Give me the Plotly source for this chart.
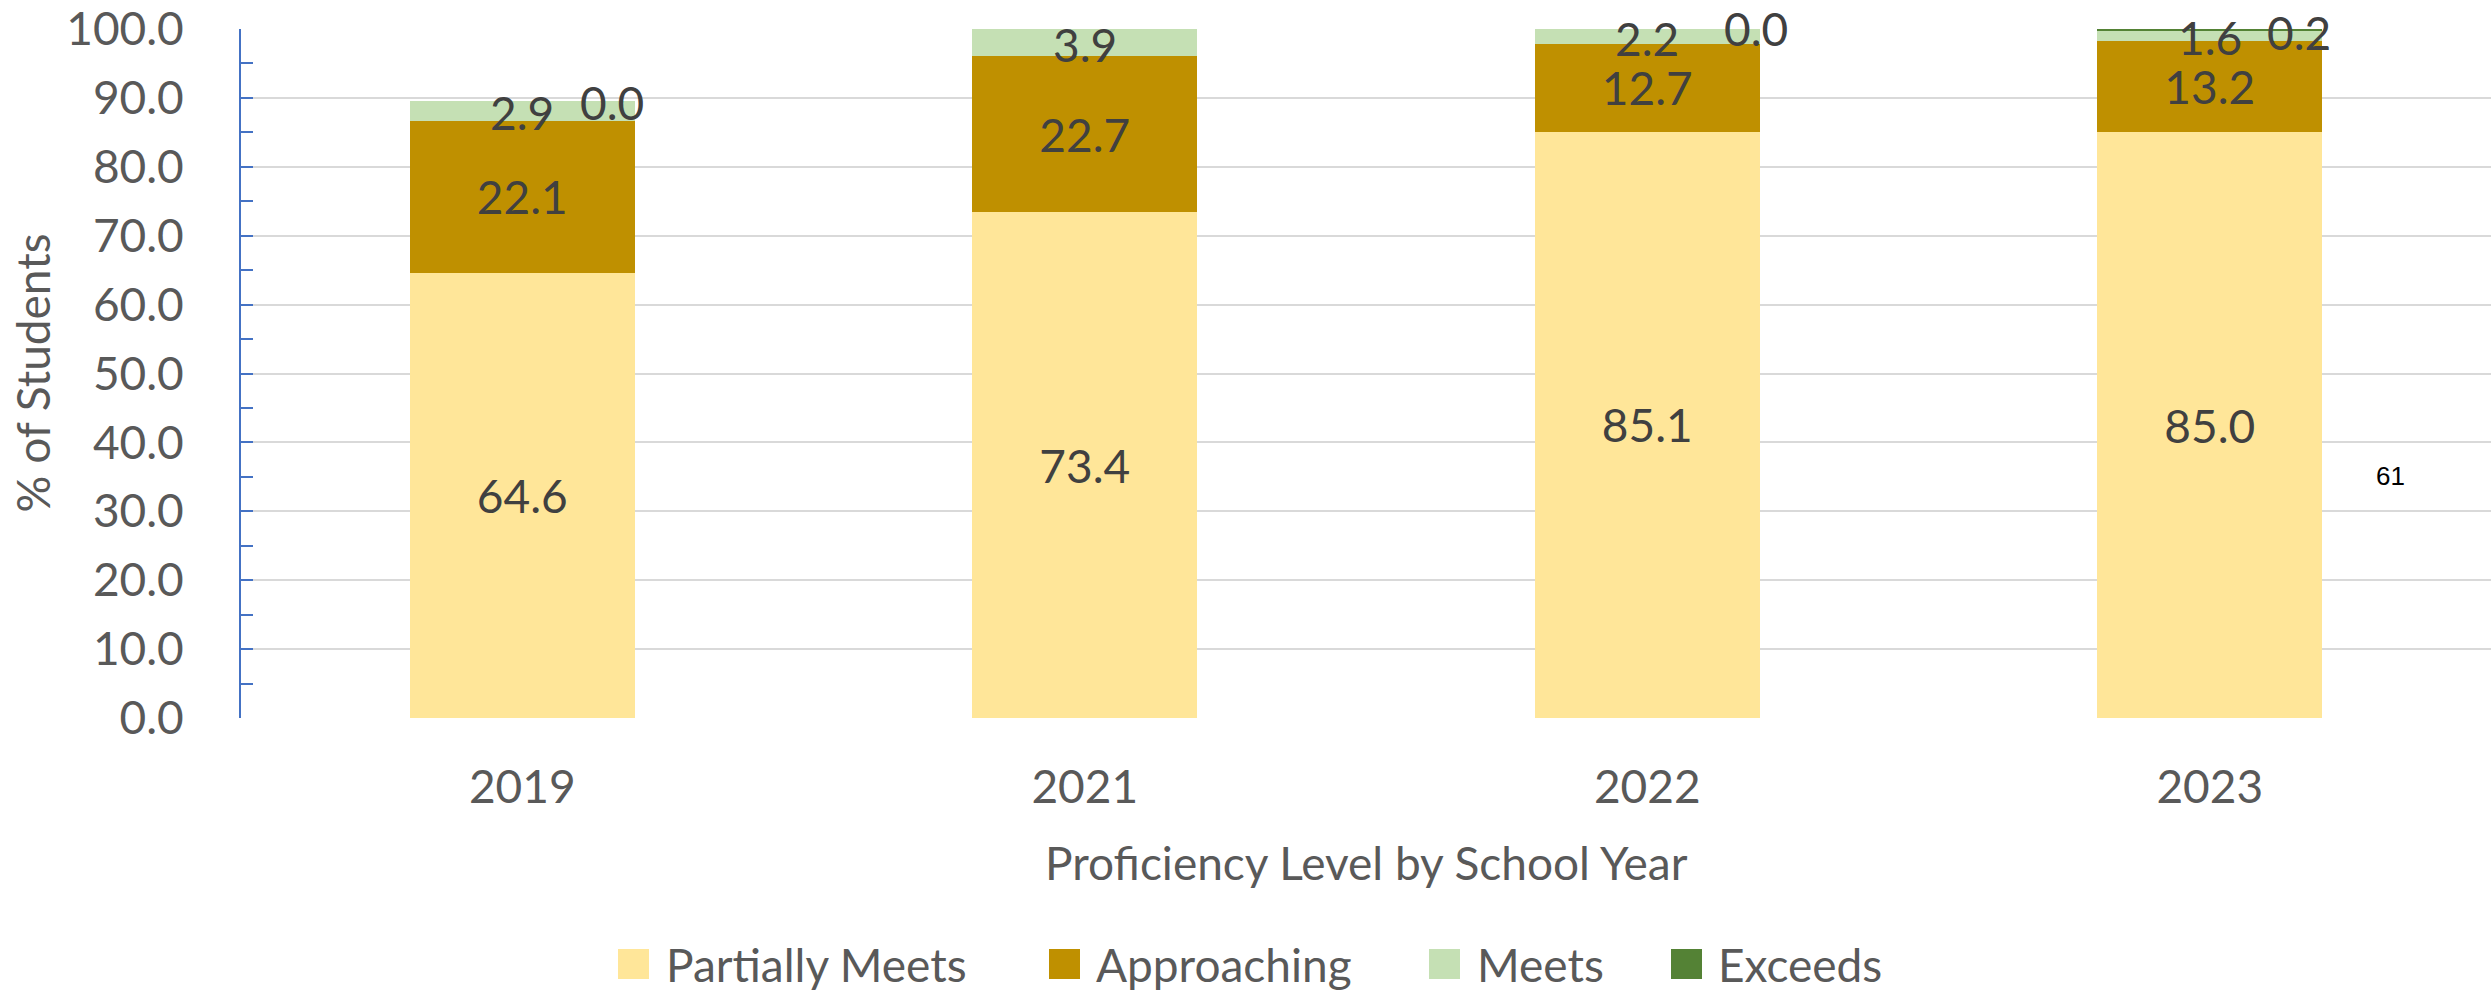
import plotly.graph_objects as go

# School years on the category axis
years = ["2019", "2021", "2022", "2023"]

# Percent of students at each proficiency level
partially_meets = [64.6, 73.4, 85.1, 85.0]
approaching = [22.1, 22.7, 12.7, 13.2]
meets = [2.9, 3.9, 2.2, 1.6]
exceeds = [0.0, None, 0.0, 0.2]

series_names = ["Partially Meets", "Approaching", "Meets", "Exceeds"]
series_colors = ["#FFE699", "#BF9000", "#C5E0B4", "#548235"]

y_ticks = [0, 10, 20, 30, 40, 50, 60, 70, 80, 90, 100]
y_tick_labels = [f"{v:.1f}" for v in y_ticks]

# Pixel nudges for the "Exceeds" labels so they sit beside the "Meets" labels
exceeds_label_dx = [90, 0, 109, 89]
exceeds_label_dy = [-2, 0, 1, -3]

FONT = "Lato, Carlito, Calibri, sans-serif"
LABEL_COLOR = "#404040"
AXIS_COLOR = "#595959"
SIZE = 46

W, H = 2491, 991
PL, PR, PT, PB = 241, 2491, 29, 718  # plot area in pixels


def px_x(x):
    return (x - PL) / (PR - PL)


def px_y(y):
    return (PB - y) / (PB - PT)


fig = go.Figure()

series_values = [partially_meets, approaching, meets, exceeds]
for i, (name, vals, color) in enumerate(zip(series_names, series_values, series_colors)):
    inside = i < 2
    fig.add_trace(go.Bar(
        x=years,
        y=[v if v is not None else 0 for v in vals],
        name=name,
        marker=dict(color=color, line=dict(width=0)),
        text=[f"{v:.1f}" for v in vals] if inside else None,
        textposition="inside" if inside else "none",
        insidetextanchor="middle",
        textangle=0,
        constraintext="none",
        textfont=dict(family=FONT, size=SIZE, color=LABEL_COLOR),
        showlegend=False,
        hoverinfo="skip",
    ))

annotations = []

# Labels for the thin top segments (x given as category index)
for idx, (pm, ap, me, ex) in enumerate(zip(partially_meets, approaching, meets, exceeds)):
    base = pm + ap
    annotations.append(dict(
        x=idx, y=base + me / 2, xref="x", yref="y",
        text=f"{me:.1f}", showarrow=False, yshift=-2,
        font=dict(family=FONT, size=SIZE, color=LABEL_COLOR),
    ))
    if ex is not None:
        annotations.append(dict(
            x=idx, y=base + me + ex, xref="x", yref="y",
            text=f"{ex:.1f}", showarrow=False,
            xshift=exceeds_label_dx[idx], yshift=exceeds_label_dy[idx],
            font=dict(family=FONT, size=SIZE, color=LABEL_COLOR),
        ))

# Axis titles
annotations.append(dict(
    x=px_x(32), y=0.5, xref="paper", yref="paper",
    text="% of Students", textangle=-90, showarrow=False,
    xanchor="center", yanchor="middle",
    font=dict(family=FONT, size=SIZE, color=AXIS_COLOR),
))
annotations.append(dict(
    x=px_x((PL + PR) / 2), y=px_y(862), xref="paper", yref="paper",
    text="Proficiency Level by School Year", showarrow=False,
    xanchor="center", yanchor="middle",
    font=dict(family=FONT, size=SIZE, color=AXIS_COLOR),
))

# Stray cell value at the right
annotations.append(dict(
    x=px_x(2390), y=px_y(476), xref="paper", yref="paper",
    text="61", showarrow=False, xanchor="center", yanchor="middle",
    font=dict(family="Liberation Sans, Arial, sans-serif", size=26, color="#000000"),
))

# Legend drawn as swatches and labels
shapes = []
legend_x = [(618, 664), (1049, 1094), (1429, 1475), (1671, 1716)]
for (sx, tx), name, color in zip(legend_x, series_names, series_colors):
    shapes.append(dict(
        type="rect", xref="paper", yref="paper",
        x0=px_x(sx), x1=px_x(sx + 31), y0=px_y(979), y1=px_y(949),
        fillcolor=color, line=dict(width=0),
    ))
    annotations.append(dict(
        x=px_x(tx), y=px_y(964), xref="paper", yref="paper",
        text=name, showarrow=False, xanchor="left", yanchor="middle",
        font=dict(family=FONT, size=SIZE, color=AXIS_COLOR),
    ))

fig.update_layout(
    barmode="stack",
    bargap=0.6,
    width=W, height=H,
    margin=dict(l=PL, r=W - PR, t=PT, b=H - PB),
    paper_bgcolor="white",
    plot_bgcolor="white",
    showlegend=False,
    annotations=annotations,
    shapes=shapes,
    font=dict(family=FONT, size=SIZE, color=AXIS_COLOR),
)

fig.update_xaxes(
    type="category",
    categoryorder="array",
    categoryarray=years,
    range=[-0.5, len(years) - 0.5],
    showgrid=False,
    showline=False,
    ticks="",
    tickfont=dict(family=FONT, size=SIZE, color=AXIS_COLOR),
    ticklabelstandoff=38,
)

fig.update_yaxes(
    range=[0, 100],
    tickvals=y_ticks,
    ticktext=y_tick_labels,
    showgrid=True,
    gridcolor="#D9D9D9",
    gridwidth=2,
    zeroline=False,
    showline=True,
    linecolor="#4472C4",
    linewidth=2,
    ticks="inside",
    ticklen=12,
    tickwidth=2,
    tickcolor="#4472C4",
    minor=dict(dtick=5, ticks="inside", ticklen=12, tickwidth=2,
               tickcolor="#4472C4", showgrid=False),
    tickfont=dict(family=FONT, size=SIZE, color=AXIS_COLOR),
    ticklabelstandoff=46,
)

fig.write_html("out.html")
